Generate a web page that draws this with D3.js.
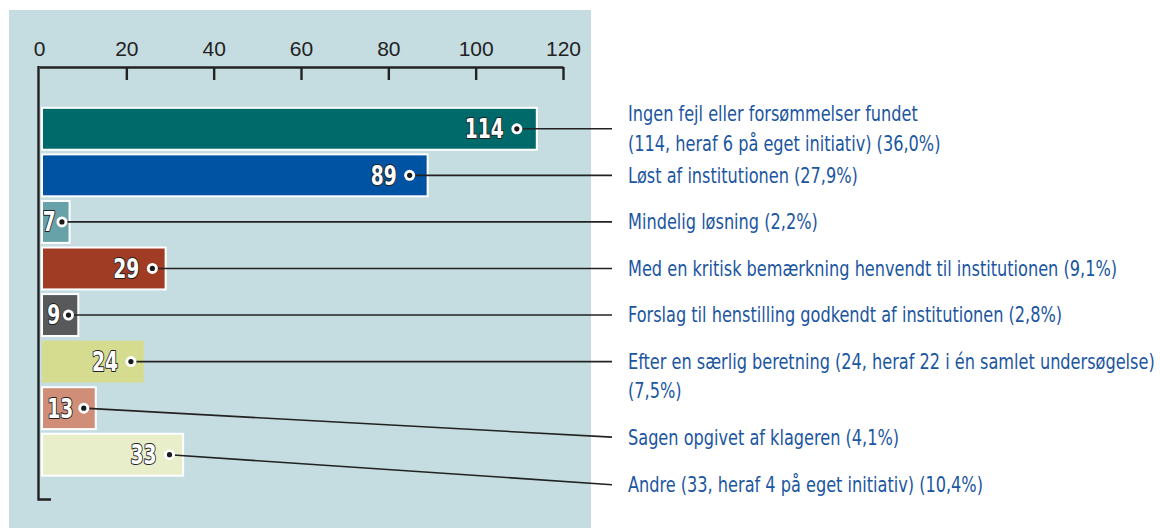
<!DOCTYPE html>
<html>
<head>
<meta charset="utf-8">
<script src="https://cdn.jsdelivr.net/npm/d3@7"></script>
<style>
  body { margin: 0; background: #fff; }
  svg { display: block; }
  .tick text { font-family: "Liberation Sans", sans-serif; }
  .cond { font-family: "DejaVu Sans Condensed", "DejaVu Sans", sans-serif; font-stretch: condensed; }
</style>
</head>
<body>
<svg id="chart" width="1161" height="528"></svg>
<script>
// data
var categories = [
    "Ingen fejl eller forsømmelser fundet|(114, heraf 6 på eget initiativ) (36,0%)",
    "Løst af institutionen (27,9%)",
    "Mindelig løsning (2,2%)",
    "Med en kritisk bemærkning henvendt til institutionen (9,1%)",
    "Forslag til henstilling godkendt af institutionen (2,8%)",
    "Efter en særlig beretning (24, heraf 22 i én samlet undersøgelse)|(7,5%)",
    "Sagen opgivet af klageren (4,1%)",
    "Andre (33, heraf 4 på eget initiativ) (10,4%)"
];
var values = [114, 89, 7, 29, 9, 24, 13, 33];
var tickValues = [0, 20, 40, 60, 80, 100, 120];

var colors = ["#006a6b", "#0052a2", "#68a2a9", "#a13c24", "#58595b", "#d5dc8f", "#d08e79", "#e9eeca"];
// extra downward shift of the labels that would otherwise collide
var labelShift = [0, 0, 0, 0, 0, 0, 29, 30];

var svg = d3.select("#chart");

// panel
svg.append("rect")
    .attr("x", 9).attr("y", 10)
    .attr("width", 582).attr("height", 518)
    .attr("fill", "#c5dde1");

var x = d3.scaleLinear().domain([0, 120]).range([39, 563]);
var y = d3.scaleBand().domain(d3.range(values.length))
    .range([105.5, 478]).paddingInner(0.1).paddingOuter(0.05);

// top axis
var axis = svg.append("g")
    .attr("transform", "translate(0,67)")
    .call(d3.axisTop(x).tickValues(tickValues).tickSize(0).tickPadding(11));
axis.select(".domain").attr("stroke", "#222").attr("stroke-width", 2.4);
axis.selectAll(".tick text")
    .attr("font-size", 21).attr("fill", "#222");
axis.selectAll(".tick").filter(function (d) { return d > 0; })
    .append("line")
    .attr("y1", 0).attr("y2", 13)
    .attr("stroke", "#222").attr("stroke-width", 2.4);

// left axis
svg.append("path")
    .attr("d", "M" + (x(0) - 0.5) + ",66V499.5H51")
    .attr("fill", "none").attr("stroke", "#222").attr("stroke-width", 2.4);

// bars
svg.selectAll(".bar")
    .data(values)
    .enter().append("rect")
    .attr("class", "bar")
    .attr("x", x(0) + 3)
    .attr("y", function (d, i) { return y(i); })
    .attr("width", function (d) { return x(d) - x(0) - 3; })
    .attr("height", y.bandwidth())
    .attr("fill", function (d, i) { return colors[i]; })
    .attr("stroke", function (d, i) { return i === 5 ? "none" : "#fff"; })
    .attr("stroke-width", 2);

function dotOff(d) {
    var w = x(d) - x(0);
    return Math.min(w * 0.25, 11 + 0.018 * w);
}
function dotX(d) { return x(d) - dotOff(d); }
function midY(i) { return y(i) + y.bandwidth() / 2; }

// label positions on the right
var lineH = 29.5;
var labelY = values.map(function (d, i) {
    var lines = categories[i].split("|").length;
    var first = i === 0 ? midY(i) - (lines - 1) * lineH / 2 : midY(i);
    return first + labelShift[i];
});
var leaderY = values.map(function (d, i) {
    return i === 0 ? midY(i) : labelY[i];
});

// leader lines
svg.selectAll(".leader")
    .data(values)
    .enter().append("line")
    .attr("class", "leader")
    .attr("x1", function (d) { return dotX(d); })
    .attr("y1", function (d, i) { return midY(i); })
    .attr("x2", 612)
    .attr("y2", function (d, i) { return leaderY[i]; })
    .attr("stroke", "#222").attr("stroke-width", 1.6);

// dots
var dots = svg.selectAll(".dot")
    .data(values)
    .enter().append("g")
    .attr("transform", function (d, i) { return "translate(" + dotX(d) + "," + midY(i) + ")"; });
dots.append("circle").attr("r", 5.5).attr("fill", "#fff");
dots.append("circle").attr("r", 2.6).attr("fill", "#1a1a1a");

// value labels
var vals = svg.selectAll(".val")
    .data(values)
    .enter().append("text")
    .attr("class", "val cond")
    .attr("dy", "0.36em")
    .attr("text-anchor", "end")
    .attr("font-weight", "bold")
    .attr("font-size", 26)
    .attr("fill", "#fff")
    .attr("stroke", "#222")
    .attr("stroke-width", 2)
    .attr("paint-order", "stroke")
    .attr("stroke-linejoin", "round")
    .text(function (d) { return d; });
// squeeze so "114" is about 39px wide, like the condensed face in the original
var kv = Math.min(1, 39 / vals.node().getComputedTextLength());
vals.attr("transform", function (d, i) {
    var gap = d > 20 ? 13 : dotOff(d) - 1.5;
    return "translate(" + (dotX(d) - gap) + "," + midY(i) + ") scale(" + kv + ",1)";
});

// category labels
var labels = svg.selectAll(".lab")
    .data(categories)
    .enter().append("text")
    .attr("class", "lab cond")
    .attr("font-size", 20.5)
    .attr("fill", "#1b56a1");
labels.selectAll("tspan")
    .data(function (d) { return d.split("|"); })
    .enter().append("tspan")
    .attr("x", 0)
    .attr("dy", function (d, j) { return j === 0 ? "0.36em" : lineH; })
    .text(function (d) { return d; });
// first line should span about 290px
var kl = Math.min(1, 290 / labels.select("tspan").node().getComputedTextLength());
labels.attr("transform", function (d, i) {
    return "translate(628," + labelY[i] + ") scale(" + kl + ",1)";
});
</script>
</body>
</html>
